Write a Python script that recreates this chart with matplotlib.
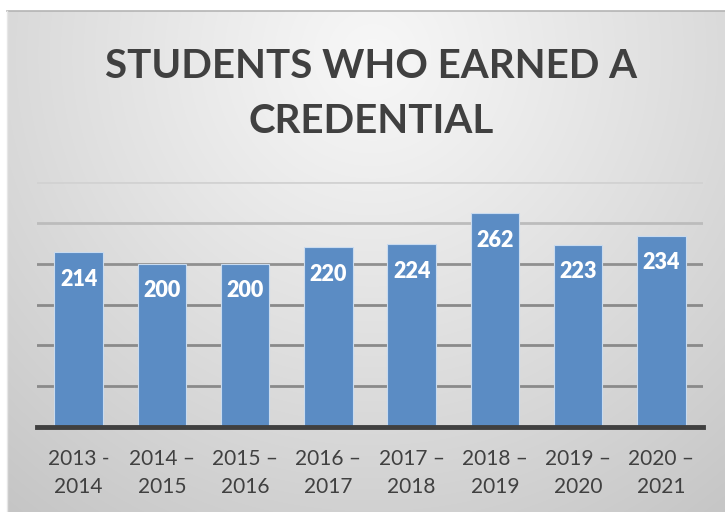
import numpy as np
import matplotlib
matplotlib.use("Agg")
import matplotlib.pyplot as plt
from matplotlib.lines import Line2D

categories = ["2013 -\n2014", "2014 \u2013\n2015", "2015 \u2013\n2016", "2016 \u2013\n2017",
              "2017 \u2013\n2018", "2018 \u2013\n2019", "2019 \u2013\n2020", "2020 \u2013\n2021"]
values = [214, 200, 200, 220, 224, 262, 223, 234]
title = "STUDENTS WHO EARNED A\nCREDENTIAL"

W, H = 725, 512
fig = plt.figure(figsize=(W / 100, H / 100), dpi=100)
fig.patch.set_facecolor("white")

# background panel with radial gradient
x0, y0 = 7, 11
bg = fig.add_axes([x0 / W, 0, 1 - x0 / W, 1 - y0 / H])
bg.set_axis_off()
yy, xx = np.mgrid[y0:H, x0:W]
d = np.sqrt(((xx - 372) / 1.0) ** 2 + ((yy - 55) / 1.0) ** 2)
v = 247 - 50 * (d / 585.0) ** 1.1
v = np.clip(v, 190, 250) / 255.0
img = np.dstack([v, v, v])
bg.imshow(img, aspect="auto", extent=[0, 1, 0, 1], origin="upper")
bg.set_xlim(0, 1)
bg.set_ylim(0, 1)
fig.add_artist(Line2D([x0 / W, 1], [1 - y0 / H, 1 - y0 / H], color="#b4b4b4", lw=1.2,
                      transform=fig.transFigure))
fig.add_artist(Line2D([x0 / W, x0 / W], [0, 1 - y0 / H], color="#e6e6e6", lw=1.0,
                      transform=fig.transFigure))

font = "Lato"
fig.text(371 / W, 1 - 94 / H, title, ha="center", va="center", fontsize=29,
         fontweight="bold", color="#404040", family=font, linespacing=1.62)

left, right, top, bottom = 37, 703, 182, 427
ax = fig.add_axes([left / W, 1 - bottom / H, (right - left) / W, (bottom - top) / H])
ax.patch.set_alpha(0)
x = np.arange(len(categories))
bars = ax.bar(x, values, width=0.58, color="#5b8cc4", edgecolor="#c9dbef", linewidth=0.8, zorder=3)
ax.set_xlim(-0.5, len(categories) - 0.5)
ax.set_ylim(0, 300)
ax.set_yticks([50, 100, 150, 200, 250, 300])
ax.yaxis.grid(True, zorder=0)
ax.set_axisbelow(True)
grid_cols = ["#8a8a8a", "#8a8a8a", "#8a8a8a", "#909090", "#bcbcbc", "#d2d2d2"]
for gl, c in zip(ax.yaxis.get_gridlines(), grid_cols):
    gl.set_color(c)
    gl.set_linewidth(2.0)
ax.tick_params(axis="y", left=False, labelleft=False)
ax.tick_params(axis="x", bottom=False, pad=12)
ax.set_xticks(x)
ax.set_xticklabels(categories, fontsize=15, color="#404040", family=font, linespacing=1.55)
for s in ["left", "right", "top"]:
    ax.spines[s].set_visible(False)
ax.spines["bottom"].set_color("#404040")
ax.spines["bottom"].set_linewidth(3.5)
ax.spines["bottom"].set_zorder(4)

for xi, v_ in zip(x, values):
    ax.annotate(str(v_), (xi, v_), xytext=(0, -19.5), textcoords="offset points",
                ha="center", va="center", fontsize=15.5, fontweight="heavy",
                color="white", family=font, zorder=5)

fig.savefig("out.png", dpi=100)
